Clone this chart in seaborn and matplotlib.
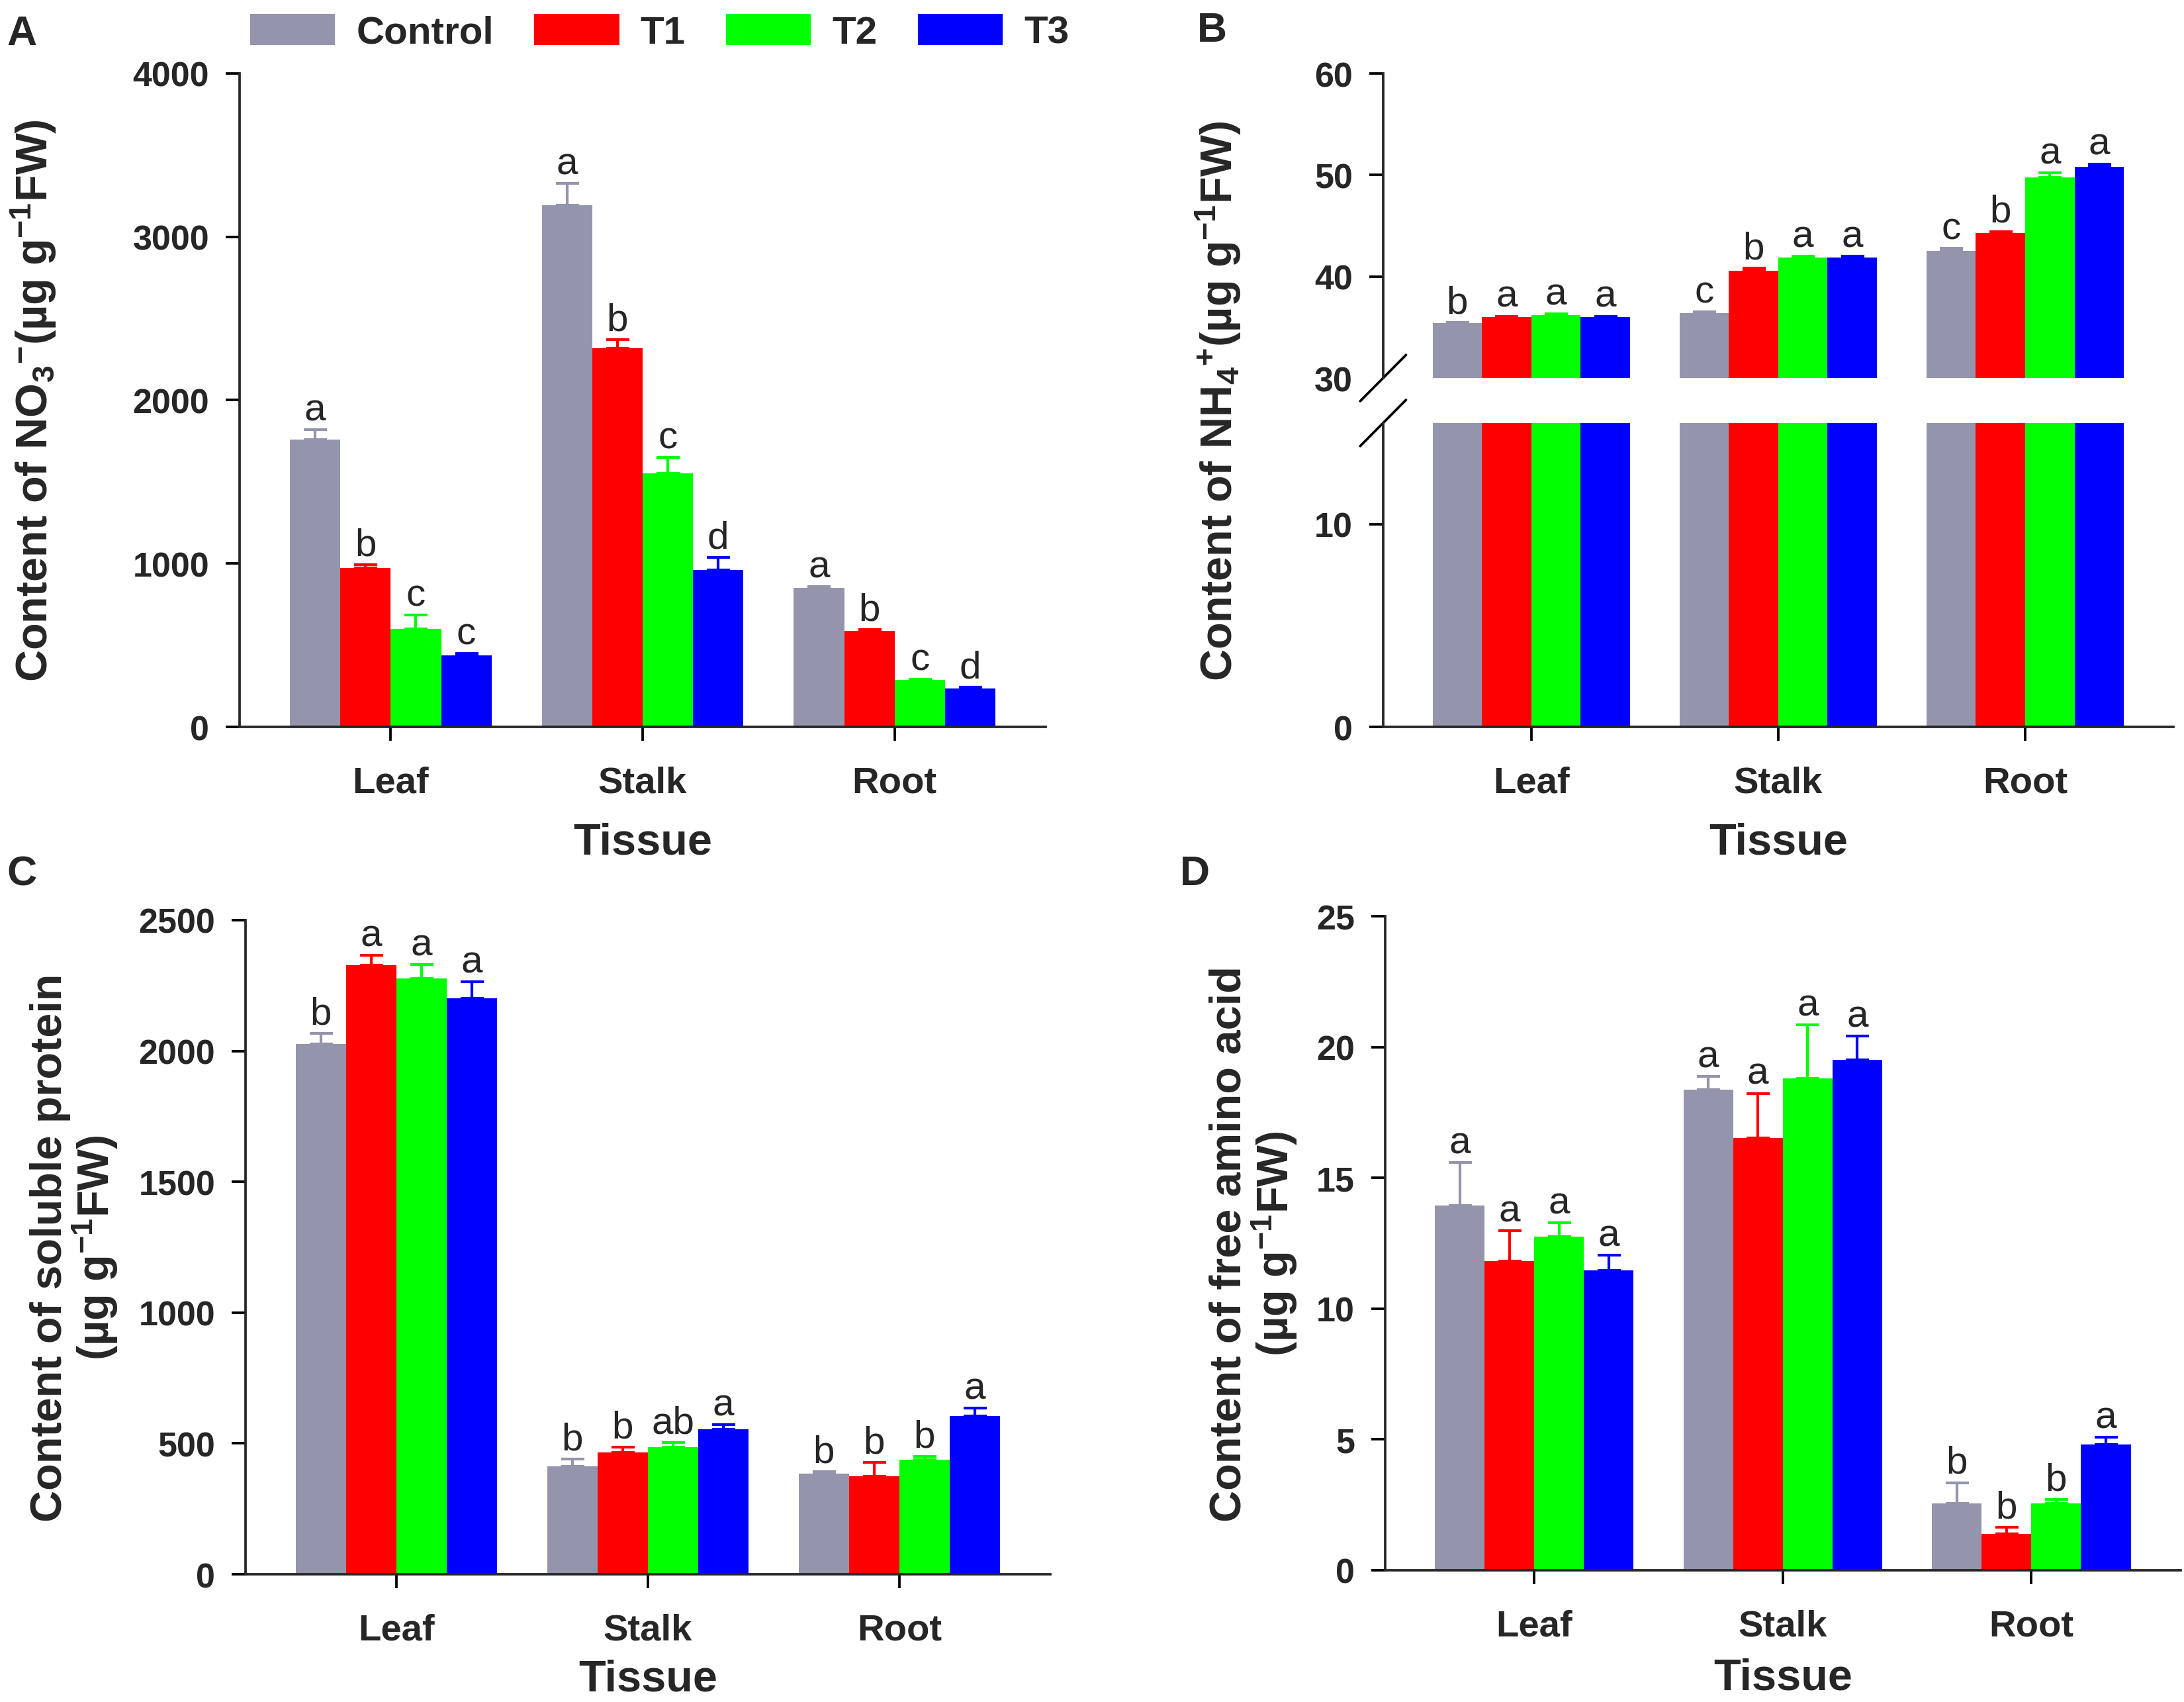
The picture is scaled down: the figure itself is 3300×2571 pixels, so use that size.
import seaborn as sns
import matplotlib.pyplot as plt
import pandas as pd

# values (mean, upper error, letters) per treatment, order = tissues
tissues = ['Leaf', 'Stalk', 'Root']
treatments = ['Control', 'T1', 'T2', 'T3']
colors = ['#9494AC', '#FF0000', '#00FF00', '#0000FF']

no3_mean = {'Control': [1758, 3192, 852], 'T1': [971, 2319, 588],
            'T2': [600, 1553, 288], 'T3': [436, 959, 235]}
no3_err = {'Control': [62, 133, 6], 'T1': [21, 53, 9],
           'T2': [83, 95, 5], 'T3': [15, 77, 8]}
no3_let = {'Control': ['a', 'a', 'a'], 'T1': ['b', 'b', 'b'],
           'T2': ['c', 'c', 'c'], 'T3': ['c', 'd', 'd']}

nh4_mean = {'Control': [35.4, 36.4, 42.5], 'T1': [36.0, 40.6, 44.3],
            'T2': [36.2, 41.9, 49.8], 'T3': [36.0, 41.9, 50.8]}
nh4_err = {'Control': [0.1, 0.15, 0.3], 'T1': [0.1, 0.25, 0.15],
           'T2': [0.1, 0.1, 0.4], 'T3': [0.1, 0.1, 0.3]}
nh4_let = {'Control': ['b', 'c', 'c'], 'T1': ['a', 'b', 'b'],
           'T2': ['a', 'a', 'a'], 'T3': ['a', 'a', 'a']}

prot_mean = {'Control': [2027, 412, 385], 'T1': [2329, 467, 375],
             'T2': [2277, 485, 437], 'T3': [2202, 554, 606]}
prot_err = {'Control': [40, 28, 7], 'T1': [36, 18, 52],
            'T2': [54, 19, 13], 'T3': [63, 19, 29]}
prot_let = {'Control': ['b', 'b', 'b'], 'T1': ['a', 'b', 'b'],
            'T2': ['a', 'ab', 'b'], 'T3': ['a', 'a', 'a']}

amino_mean = {'Control': [13.94, 18.38, 2.56], 'T1': [11.81, 16.52, 1.38],
              'T2': [12.75, 18.79, 2.56], 'T3': [11.46, 19.52, 4.81]}
amino_err = {'Control': [1.64, 0.5, 0.79], 'T1': [1.17, 1.71, 0.27],
             'T2': [0.54, 2.06, 0.15], 'T3': [0.58, 0.9, 0.27]}
amino_let = {'Control': ['a', 'a', 'b'], 'T1': ['a', 'a', 'b'],
             'T2': ['a', 'a', 'b'], 'T3': ['a', 'a', 'a']}

ARIAL = ['Liberation Sans', 'DejaVu Sans']

sns.set_style('ticks')
plt.rcParams['font.family'] = ARIAL
plt.rcParams['font.weight'] = 'bold'
plt.rcParams['mathtext.default'] = 'regular'
plt.rcParams['axes.linewidth'] = 0.9


def long_df(means):
    rows = []
    for t in treatments:
        for tis, v in zip(tissues, means[t]):
            rows.append({'Tissue': tis, 'Treatment': t, 'Value': v})
    return pd.DataFrame(rows)


def bars(ax, means, legend=False):
    sns.barplot(data=long_df(means), x='Tissue', y='Value', hue='Treatment',
                order=tissues, hue_order=treatments, palette=colors, saturation=1,
                width=0.8, linewidth=0, errorbar=None, legend=legend, ax=ax)
    ax.set_xlim(-0.6, 2.6)
    ax.set_xlabel('')
    ax.set_ylabel('')
    sns.despine(ax=ax)
    ax.tick_params(axis='both', length=5, width=0.9, color='black')
    ax.tick_params(axis='y', labelsize=12.5, pad=6)
    ax.tick_params(axis='x', labelsize=13.5, pad=9)


def errs_letters(ax, means, errs, lets):
    for cont, t, c in zip(ax.containers, treatments, colors):
        for bar, m, e, l in zip(cont, means[t], errs[t], lets[t]):
            x = bar.get_x() + bar.get_width() / 2
            ax.errorbar(x, m, yerr=[[0], [e]], fmt='none', ecolor=c,
                        elinewidth=1.0, capsize=4.2, capthick=1.0, zorder=3)
            ax.annotate(l, (x, m + e), xytext=(0, 3.5), textcoords='offset points',
                        ha='center', va='baseline', fontsize=14,
                        fontweight='normal')


def xlabel(ax, pad=8):
    ax.set_xlabel('Tissue', fontsize=16, fontweight='bold', labelpad=pad)


fig = plt.figure(figsize=(11, 8.5733), dpi=300)

# A
axA = fig.add_axes([0.1097, 0.5727, 0.3691, 0.3838])
bars(axA, no3_mean, legend=True)
errs_letters(axA, no3_mean, no3_err, no3_let)
axA.set_ylim(0, 4000)
axA.set_yticks([0, 1000, 2000, 3000, 4000])
xlabel(axA)
axA.set_ylabel(r'Content of NO$_3$$^{-}$(µg g$^{-1}$FW)', fontsize=16, fontweight='bold')
axA.yaxis.set_label_coords(-0.225, 0.5)
handles, labels = axA.get_legend_handles_labels()
axA.get_legend().remove()
fig.legend(handles, labels, loc='center', bbox_to_anchor=(0.302, 0.9805), ncol=4,
           frameon=False, fontsize=14, handlelength=2.2, handleheight=0.85,
           handletextpad=0.55, columnspacing=1.05, borderpad=0)

# B (broken axis)
axBt = fig.add_axes([0.6333, 0.7776, 0.3618, 0.1788])
axBb = fig.add_axes([0.6333, 0.5727, 0.3618, 0.1785])
bars(axBt, nh4_mean)
bars(axBb, nh4_mean)
errs_letters(axBt, nh4_mean, nh4_err, nh4_let)
axBt.set_ylim(30, 60)
axBt.set_yticks([30, 40, 50, 60])
axBt.spines['bottom'].set_visible(False)
axBt.tick_params(axis='x', bottom=False, labelbottom=False)
axBt.yaxis.get_major_ticks()[0].tick1line.set_visible(False)
axBb.set_ylim(0, 15)
axBb.set_yticks([0, 10])
xlabel(axBb)
dx, dy = 0.029, 0.076
axBt.plot([-dx, dx], [-dy, dy], transform=axBt.transAxes, color='black',
          lw=0.9, clip_on=False)
axBb.plot([-dx, dx], [1 - dy, 1 + dy], transform=axBb.transAxes, color='black',
          lw=0.9, clip_on=False)
fig.text(0.569, 0.7644, r'Content of NH$_4$$^{+}$(µg g$^{-1}$FW)', rotation=90,
         ha='right', va='center', fontsize=16, fontweight='bold')

# C
axC = fig.add_axes([0.1124, 0.0750, 0.3685, 0.3842])
bars(axC, prot_mean)
errs_letters(axC, prot_mean, prot_err, prot_let)
axC.set_ylim(0, 2500)
axC.set_yticks([0, 500, 1000, 1500, 2000, 2500])
xlabel(axC, pad=4)
axC.set_ylabel('Content of soluble protein\n' + r'(µg g$^{-1}$FW)', fontsize=16,
               fontweight='bold', linespacing=1.0)
axC.yaxis.set_label_coords(-0.156, 0.5)

# D
axD = fig.add_axes([0.6342, 0.0774, 0.3642, 0.3841])
bars(axD, amino_mean)
errs_letters(axD, amino_mean, amino_err, amino_let)
axD.set_ylim(0, 25)
axD.set_yticks([0, 5, 10, 15, 20, 25])
xlabel(axD, pad=5)
axD.set_ylabel('Content of free amino acid\n' + r'(µg g$^{-1}$FW)', fontsize=16,
               fontweight='bold', linespacing=1.0)
axD.yaxis.set_label_coords(-0.108, 0.5)

for t, x, y in [('A', 0.010, 0.980), ('B', 0.555, 0.982),
                ('C', 0.010, 0.4864), ('D', 0.547, 0.4864)]:
    fig.text(x, y, t, ha='center', va='center', fontsize=15, fontweight='bold')

fig.savefig('out.png', dpi=300)
